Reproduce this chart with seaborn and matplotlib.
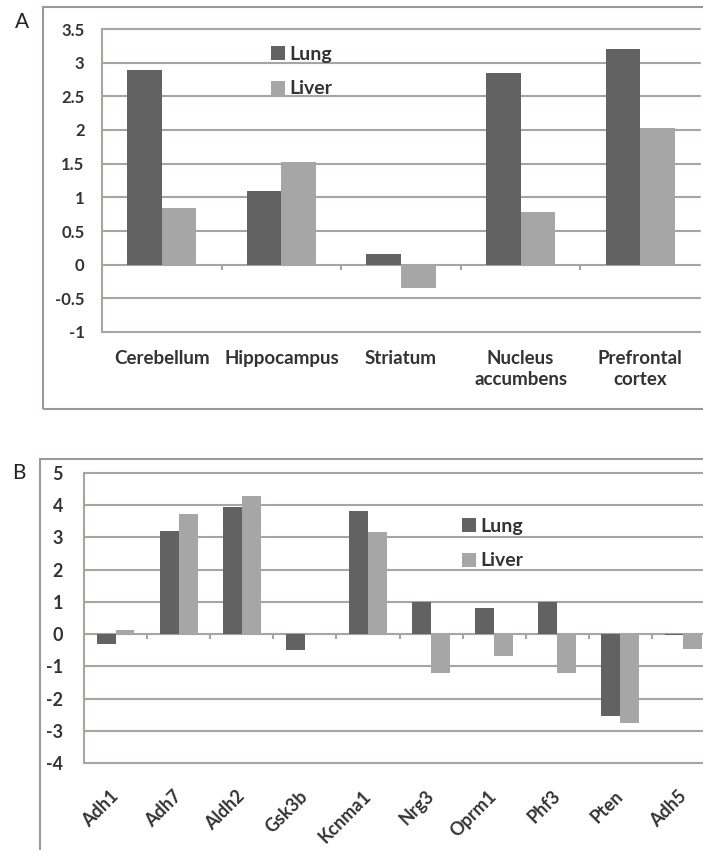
import numpy as np
import pandas as pd
import matplotlib
matplotlib.use('Agg')
import matplotlib.pyplot as plt
import matplotlib.patches as patches
from matplotlib.ticker import FuncFormatter
import seaborn as sns

# Panel A data: brain regions
regions = ['Cerebellum', 'Hippocampus', 'Striatum', 'Nucleus\naccumbens', 'Prefrontal\ncortex']
lung_a = [2.89, 1.10, 0.16, 2.85, 3.21]
liver_a = [0.84, 1.53, -0.34, 0.78, 2.03]

# Panel B data: genes
genes = ['Adh1', 'Adh7', 'Aldh2', 'Gsk3b', 'Kcnma1', 'Nrg3', 'Oprm1', 'Phf3', 'Pten', 'Adh5']
lung_b = [-0.30, 3.20, 3.93, -0.49, 3.81, 0.99, 0.80, 0.99, -2.54, -0.02]
liver_b = [0.12, 3.73, 4.30, -0.04, 3.18, -1.20, -0.69, -1.20, -2.75, -0.47]

tissues = ['Lung', 'Liver']

sns.set_theme(style='white')
plt.rcParams['font.family'] = ['Lato', 'DejaVu Sans']
plt.rcParams['axes.unicode_minus'] = False

DARK = '#626262'
LIGHT = '#a6a6a6'
GRID = '#aca2a2'
FRAME = '#a09696'
TEXT = '#333333'

W, H = 703, 850
fig = plt.figure(figsize=(W / 100, H / 100), dpi=100)
fig.patch.set_facecolor('white')


def long_frame(cats, lung, liver, col):
    return pd.DataFrame({
        col: list(cats) * 2,
        'value': list(lung) + list(liver),
        'tissue': ['Lung'] * len(cats) + ['Liver'] * len(cats),
    })


def style_axes(ax, ymin, ymax, step, ytick_size, ypad, tick_len, cross_len, n):
    ax.set_ylim(ymin, ymax)
    ax.set_xlim(-0.5, n - 0.5)
    ticks = np.arange(ymin, ymax + step / 2, step)
    ax.set_yticks(ticks)
    ax.yaxis.set_major_formatter(FuncFormatter(lambda v, p: f'{v:g}'))
    ax.grid(False)
    # horizontal gridlines at every y tick (Excel style)
    for t in ticks:
        ax.axhline(t, color=GRID, linewidth=1.5, zorder=0.5, clip_on=False)
    for s in ['top', 'right', 'bottom']:
        ax.spines[s].set_visible(False)
    ax.spines['left'].set_color(GRID)
    ax.spines['left'].set_linewidth(1.5)
    ax.tick_params(axis='y', which='major', direction='out', length=tick_len, width=1.5,
                   color=GRID, pad=ypad, labelsize=ytick_size, labelcolor=TEXT)
    for lab in ax.get_yticklabels():
        lab.set_fontweight('bold')
    # small tick marks between categories on the zero line
    ax.vlines(np.arange(0.5, n - 0.5, 1.0), -cross_len, 0, colors=GRID, linewidth=1.5, zorder=0.5)
    ax.set_xlabel('')
    ax.set_ylabel('')
    ax.set_facecolor('none')


# Frames around each panel
fig.add_artist(patches.Rectangle((43 / W, 1 - 409 / H), 1.0, 402 / H, transform=fig.transFigure,
                                 fill=False, edgecolor=FRAME, linewidth=1.5))
fig.add_artist(patches.Rectangle((40 / W, -0.1), 1.0, 1 - 459 / H + 0.1, transform=fig.transFigure,
                                 fill=False, edgecolor=FRAME, linewidth=1.5))

# Panel A
axA = fig.add_axes([102 / W, 1 - 332 / H, 598 / W, 303 / H])
dfA = long_frame(regions, lung_a, liver_a, 'region')
sns.barplot(data=dfA, x='region', y='value', hue='tissue', hue_order=tissues,
            palette=[DARK, LIGHT], width=0.58, saturation=1, ax=axA, zorder=2,
            edgecolor='none', linewidth=0)
style_axes(axA, -1, 3.5, 0.5, 12, 9, 3.6, 0.074, len(regions))
axA.tick_params(axis='x', length=0, pad=13, labelsize=13.5, labelcolor=TEXT)
for lab in axA.get_xticklabels():
    lab.set_fontweight('bold')
    lab.set_linespacing(1.3)
handles, labels = axA.get_legend_handles_labels()
axA.legend(handles, labels, loc='upper left', bbox_to_anchor=(271 / W, 1 - 46 / H),
           bbox_transform=fig.transFigure, frameon=False, borderpad=0, borderaxespad=0,
           handlelength=0.7, handleheight=0.7, handletextpad=0.25, labelspacing=0.9,
           prop={'size': 14, 'weight': 'bold'}, labelcolor=TEXT)

# Panel B
axB = fig.add_axes([84 / W, 1 - 763 / H, 631 / W, 290 / H])
dfB = long_frame(genes, lung_b, liver_b, 'gene')
sns.barplot(data=dfB, x='gene', y='value', hue='tissue', hue_order=tissues,
            palette=[DARK, LIGHT], width=0.6, saturation=1, ax=axB, zorder=2,
            edgecolor='none', linewidth=0)
style_axes(axB, -4, 5, 1, 13, 10, 5, 0.15, len(genes))
axB.tick_params(axis='x', length=0, pad=22, labelsize=13, labelcolor=TEXT)
for lab in axB.get_xticklabels():
    lab.set_fontweight('bold')
    lab.set_rotation(45)
    lab.set_ha('right')
    lab.set_va('center')
    lab.set_rotation_mode('anchor')
handles, labels = axB.get_legend_handles_labels()
axB.legend(handles, labels, loc='upper left', bbox_to_anchor=(462 / W, 1 - 518 / H),
           bbox_transform=fig.transFigure, frameon=False, borderpad=0, borderaxespad=0,
           handlelength=0.7, handleheight=0.7, handletextpad=0.25, labelspacing=0.9,
           prop={'size': 14, 'weight': 'bold'}, labelcolor=TEXT)

# Panel letters
fig.text(22 / W, 1 - 22 / H, 'A', fontsize=15, color='#222222', ha='center', va='center')
fig.text(19 / W, 1 - 473 / H, 'B', fontsize=15, color='#222222', ha='center', va='center')

fig.savefig('out.png', dpi=100, facecolor='white')
